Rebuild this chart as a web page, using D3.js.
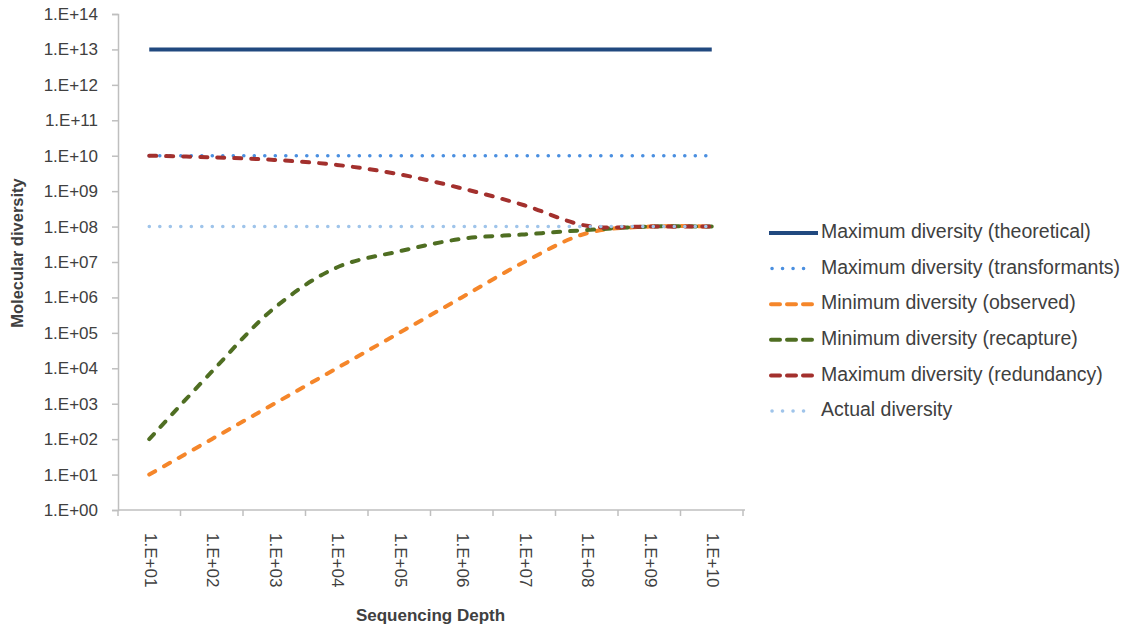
<!DOCTYPE html>
<html>
<head>
<meta charset="utf-8">
<script src="https://cdn.jsdelivr.net/npm/d3@7"></script>
<style>
  html, body { margin: 0; padding: 0; background: #ffffff; }
  svg { display: block; }
  text { font-family: "Liberation Sans", Arial, sans-serif; fill: #404040; }
</style>
</head>
<body>
<svg id="chart" width="1130" height="628"></svg>
<script>
// Sequencing depth categories (x axis)
const depths = ["1.E+01", "1.E+02", "1.E+03", "1.E+04", "1.E+05",
                "1.E+06", "1.E+07", "1.E+08", "1.E+09", "1.E+10"];

// Y axis tick values (powers of ten) and their labels
const yTickValues = [1e0, 1e1, 1e2, 1e3, 1e4, 1e5, 1e6, 1e7, 1e8, 1e9, 1e10, 1e11, 1e12, 1e13, 1e14];
const yTickLabels = ["1.E+00", "1.E+01", "1.E+02", "1.E+03", "1.E+04", "1.E+05", "1.E+06",
                     "1.E+07", "1.E+08", "1.E+09", "1.E+10", "1.E+11", "1.E+12", "1.E+13", "1.E+14"];

// Series values, one per sequencing depth
const maxTheoretical   = [1e13, 1e13, 1e13, 1e13, 1e13, 1e13, 1e13, 1e13, 1e13, 1e13];
const maxTransformants = [1e10, 1e10, 1e10, 1e10, 1e10, 1e10, 1e10, 1e10, 1e10, 1e10];
const minObserved      = [1e1, 1e2, 1e3, 1e4, 1e5, 1e6, 1e7, 6.5e7, 1e8, 1e8];
const minRecapture     = [1e2, 8e3, 5e5, 7e6, 2e7, 4.5e7, 6e7, 8e7, 1e8, 1e8];
const maxRedundancy    = [1e10, 9e9, 7.6e9, 5.5e9, 3e9, 1.2e9, 4e8, 1.05e8, 1e8, 1e8];
const actualDiversity  = [1e8, 1e8, 1e8, 1e8, 1e8, 1e8, 1e8, 1e8, 1e8, 1e8];

const seriesNames = [
  "Maximum diversity (theoretical)",
  "Maximum diversity (transformants)",
  "Minimum diversity (observed)",
  "Minimum diversity (recapture)",
  "Maximum diversity (redundancy)",
  "Actual diversity"
];

// Stroke styles per series
const styles = [
  { color: "#21497f", width: 4,   dash: null,       cap: "butt",  smooth: false },
  { color: "#4a8fe0", width: 3.5, dash: "0.1,10.4", cap: "round", smooth: false },
  { color: "#f5862a", width: 4,   dash: "7,10",     cap: "round", smooth: true },
  { color: "#4f6e22", width: 4,   dash: "7,10",     cap: "round", smooth: true },
  { color: "#a3302d", width: 4,   dash: "7,10",     cap: "round", smooth: true },
  { color: "#9fc4ea", width: 3.5, dash: "0.1,10.4", cap: "round", smooth: false }
];

const seriesValues = [maxTheoretical, maxTransformants, minObserved, minRecapture, maxRedundancy, actualDiversity];

const svg = d3.select("#chart");

const plot = { left: 118, right: 743, top: 14, bottom: 510 };

const x = d3.scaleBand().domain(depths).range([plot.left, plot.right]).paddingInner(0).paddingOuter(0);
const y = d3.scaleLog().domain([1, 1e14]).range([plot.bottom, plot.top]);

const axisColor = "#bfbfbf";

// Y axis
const yAxis = svg.append("g")
  .attr("transform", `translate(${plot.left},0)`)
  .call(d3.axisLeft(y)
    .tickValues(yTickValues)
    .tickFormat((d, i) => yTickLabels[i])
    .tickSize(6)
    .tickPadding(14));
yAxis.select(".domain").attr("stroke", axisColor).attr("stroke-width", 1.5);
yAxis.selectAll(".tick line").attr("stroke", axisColor).attr("stroke-width", 1.5);
yAxis.selectAll(".tick text")
  .attr("font-size", 17)
  .attr("fill", "#404040")
  .style("font-family", "'Liberation Sans', Arial, sans-serif");

// X axis: line, tick marks at category boundaries, rotated labels
const xAxisG = svg.append("g").attr("transform", `translate(0,${plot.bottom})`);
xAxisG.append("line")
  .attr("x1", plot.left).attr("x2", plot.right + 2)
  .attr("y1", 0).attr("y2", 0)
  .attr("stroke", axisColor).attr("stroke-width", 1.5);
const boundaries = depths.map(d => x(d)).concat([x(depths[depths.length - 1]) + x.bandwidth()]);
xAxisG.selectAll("line.tick")
  .data(boundaries)
  .join("line")
  .attr("class", "tick")
  .attr("x1", d => d).attr("x2", d => d)
  .attr("y1", 0).attr("y2", 6)
  .attr("stroke", axisColor).attr("stroke-width", 1.5);
xAxisG.selectAll("text.lbl")
  .data(depths)
  .join("text")
  .attr("class", "lbl")
  .attr("transform", d => `translate(${x(d) + x.bandwidth() / 2},23) rotate(90)`)
  .attr("text-anchor", "start")
  .attr("dominant-baseline", "middle")
  .attr("font-size", 17)
  .text(d => d);

// Axis titles
svg.append("text")
  .attr("x", (plot.left + plot.right) / 2)
  .attr("y", 621)
  .attr("text-anchor", "middle")
  .attr("font-size", 17)
  .attr("font-weight", "bold")
  .attr("fill", "#262626")
  .text("Sequencing Depth");

svg.append("text")
  .attr("transform", "translate(23,253) rotate(-90)")
  .attr("text-anchor", "middle")
  .attr("font-size", 16.5)
  .attr("font-weight", "bold")
  .attr("fill", "#262626")
  .text("Molecular diversity");

// Series lines
const cx = d => x(d) + x.bandwidth() / 2;
seriesValues.forEach((vals, si) => {
  const st = styles[si];
  const line = d3.line()
    .x((v, i) => cx(depths[i]))
    .y(v => y(v))
    .curve(st.smooth ? d3.curveCatmullRom.alpha(0.5) : d3.curveLinear);
  svg.append("path")
    .datum(vals)
    .attr("d", line)
    .attr("fill", "none")
    .attr("stroke", st.color)
    .attr("stroke-width", st.width)
    .attr("stroke-linecap", st.cap)
    .attr("stroke-linejoin", "round")
    .attr("stroke-dasharray", st.dash);
});

// Legend
const legend = svg.append("g");
seriesNames.forEach((name, i) => {
  const st = styles[i];
  const yy = 233 + i * 35.6;
  let dash = st.dash;
  let x1 = 769, x2 = 818;
  if (st.dash === "7,10") { dash = "9,7"; x1 = 771; x2 = 816; }
  if (st.dash === "0.1,10.4") { x1 = 772; x2 = 812; }
  legend.append("line")
    .attr("x1", x1).attr("x2", x2)
    .attr("y1", yy).attr("y2", yy)
    .attr("stroke", st.color)
    .attr("stroke-width", st.width)
    .attr("stroke-linecap", st.cap)
    .attr("stroke-dasharray", dash);
  legend.append("text")
    .attr("x", 821)
    .attr("y", yy)
    .attr("dominant-baseline", "middle")
    .attr("font-size", 19.5)
    .text(name);
});
</script>
</body>
</html>
